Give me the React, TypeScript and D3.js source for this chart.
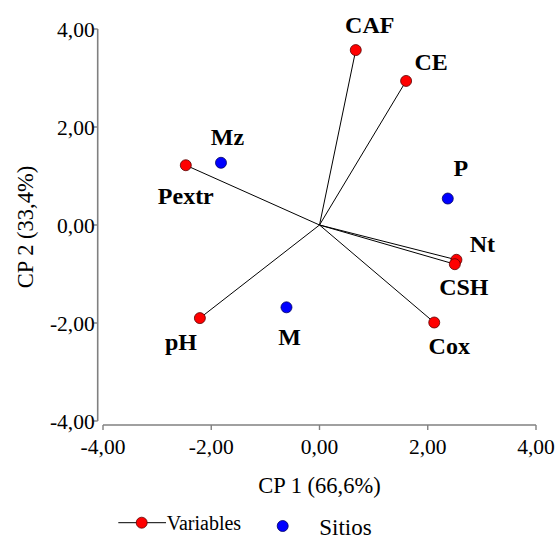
import React from "react";
import * as d3 from "d3";

// Biplot: variables (vectors from origin) and sites on the first two principal components
const variableNames = ["CAF", "CE", "Pextr", "pH", "Cox", "Nt", "CSH"];
const variableCP1 = [0.67, 1.6, -2.47, -2.21, 2.12, 2.53, 2.5];
const variableCP2 = [3.57, 2.94, 1.22, -1.9, -1.99, -0.71, -0.8];

const siteNames = ["Mz", "P", "M"];
const siteCP1 = [-1.82, 2.37, -0.61];
const siteCP2 = [1.27, 0.54, -1.68];

const tickValues = [-4, -2, 0, 2, 4];
const tickLabels = ["-4,00", "-2,00", "0,00", "2,00", "4,00"];

const xTitle = "CP 1 (66,6%)";
const yTitle = "CP 2 (33,4%)";
const legendVariables = "Variables";
const legendSites = "Sitios";

// Label placement relative to each marker (pixels: horizontal shift, baseline shift)
const labelOffsets: Record<string, [number, number]> = {
  CAF: [14, -17],
  CE: [25, -11],
  Pextr: [0, 39],
  pH: [-19, 32],
  Cox: [15, 31],
  Nt: [26, -8],
  CSH: [9, 31],
  Mz: [6.5, -18],
  P: [13, -23],
  M: [3, 38],
};

const W = 559;
const H = 539;
const FONT = "Liberation Serif, Times New Roman, Times, serif";
const AXIS = "#808080";

export default function App() {
  const x = d3.scaleLinear().domain([-4, 4]).range([103, 536]);
  const y = d3.scaleLinear().domain([-4, 4]).range([421, 29]);
  const yAxisX = 97.7;
  const xAxisY = 425;

  const variables = variableNames.map((name, i) => ({
    name,
    cx: x(variableCP1[i]),
    cy: y(variableCP2[i]),
  }));
  const sites = siteNames.map((name, i) => ({
    name,
    cx: x(siteCP1[i]),
    cy: y(siteCP2[i]),
  }));

  return (
    <svg
      width={W}
      height={H}
      style={{ position: "absolute", left: 0, top: 0, background: "#fff", fontFamily: FONT }}
    >
      {/* Y axis */}
      <line x1={yAxisX} x2={yAxisX} y1={y(4)} y2={y(-4)} stroke={AXIS} strokeWidth={1.6} />
      {tickValues.map((t, i) => (
        <g key={"yt" + t}>
          <line x1={yAxisX - 4} x2={yAxisX} y1={y(t)} y2={y(t)} stroke={AXIS} strokeWidth={1.4} />
          <text x={yAxisX - 3} y={y(t) + 7.5} textAnchor="end" fontSize={21.5} fill="#000">
            {tickLabels[i]}
          </text>
        </g>
      ))}

      {/* X axis */}
      <line x1={x(-4)} x2={x(4)} y1={xAxisY} y2={xAxisY} stroke={AXIS} strokeWidth={1.4} />
      {tickValues.map((t, i) => (
        <g key={"xt" + t}>
          <line x1={x(t)} x2={x(t)} y1={xAxisY} y2={xAxisY + 5} stroke={AXIS} strokeWidth={1.4} />
          <text x={x(t)} y={454} textAnchor="middle" fontSize={21.5} fill="#000">
            {tickLabels[i]}
          </text>
        </g>
      ))}

      {/* Axis titles */}
      <text x={x(0)} y={493} textAnchor="middle" fontSize={22.5} fill="#000">
        {xTitle}
      </text>
      <text
        transform={`translate(33, 227) rotate(-90)`}
        textAnchor="middle"
        fontSize={22.5}
        fill="#000"
      >
        {yTitle}
      </text>

      {/* Variable vectors */}
      {variables.map((v) => (
        <line key={"l" + v.name} x1={x(0)} y1={y(0)} x2={v.cx} y2={v.cy} stroke="#000" strokeWidth={1} />
      ))}
      {variables.map((v) => (
        <circle key={"c" + v.name} cx={v.cx} cy={v.cy} r={5.5} fill="#ff0000" stroke="#5a0000" strokeWidth={0.8} />
      ))}
      {sites.map((s) => (
        <circle key={"s" + s.name} cx={s.cx} cy={s.cy} r={5.5} fill="#0000ff" stroke="#000060" strokeWidth={0.8} />
      ))}

      {/* Point labels */}
      {[...variables, ...sites].map((p) => {
        const [dx, dy] = labelOffsets[p.name];
        return (
          <text
            key={"t" + p.name}
            x={p.cx + dx}
            y={p.cy + dy}
            textAnchor="middle"
            fontSize={24}
            fontWeight="bold"
            fill="#000"
          >
            {p.name}
          </text>
        );
      })}

      {/* Legend */}
      <line x1={118.3} x2={166} y1={522.7} y2={522.7} stroke="#000" strokeWidth={1} />
      <circle cx={141.7} cy={522.7} r={5.5} fill="#ff0000" stroke="#5a0000" strokeWidth={0.8} />
      <text x={166.7} y={530} fontSize={20} fill="#000">
        {legendVariables}
      </text>
      <circle cx={282.7} cy={526} r={5.5} fill="#0000ff" stroke="#000060" strokeWidth={0.8} />
      <text x={319.3} y={534.5} fontSize={23} fill="#000">
        {legendSites}
      </text>
    </svg>
  );
}
